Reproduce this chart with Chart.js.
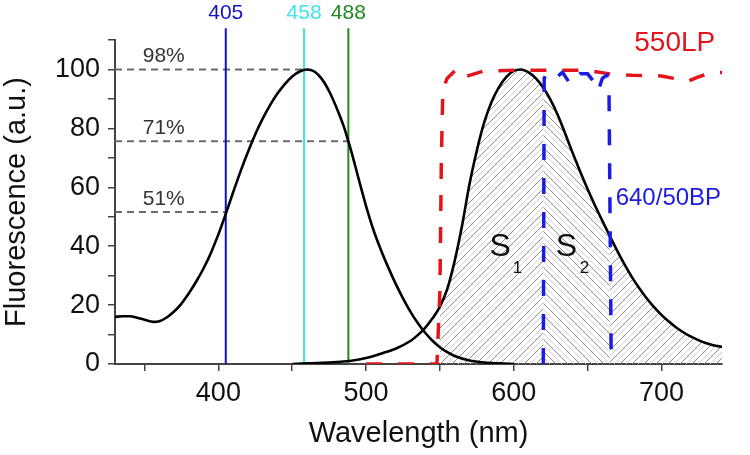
<!DOCTYPE html>
<html>
<head>
<meta charset="utf-8">
<script src="https://cdn.jsdelivr.net/npm/chart.js@4.4.1/dist/chart.umd.min.js"></script>
<style>
  html, body { margin: 0; padding: 0; background: #fff; }
  #wrap { width: 750px; height: 455px; }
</style>
</head>
<body>
<div id="wrap"><canvas id="spectra" width="750" height="455"></canvas></div>
<script>
// data (nm, nilai a.u.)
const excitationNm = [330, 335, 340, 345, 350, 356, 360, 365, 370, 375, 380, 385, 390, 395, 400, 405, 410, 415, 420, 425, 430, 435, 440, 445, 450, 455, 460, 465, 470, 475, 480, 485, 488, 490, 495, 500, 505, 510, 515, 520, 525, 530, 535, 540, 545, 550, 555, 560, 570, 580, 590, 600];
const excitationVal = [16, 16.2, 16.2, 15.7, 15, 14.3, 14.5, 15.8, 17.8, 20.5, 24, 28, 32.5, 37.8, 44, 51, 58.3, 65.4, 72, 78, 83.3, 87.9, 91.8, 95, 97.6, 99.3, 100, 99.3, 96.8, 92.6, 87, 80.5, 75.6, 72.2, 62.8, 53.6, 45.5, 38.8, 32.8, 27.3, 22.3, 17.8, 13.9, 10.6, 7.9, 5.7, 4, 2.7, 1.2, 0.5, 0.2, 0];

const emissionNm = [450, 460, 470, 480, 490, 500, 510, 520, 530, 535, 540, 545, 550, 555, 560, 565, 570, 575, 580, 585, 590, 595, 600, 605, 610, 615, 620, 625, 630, 635, 640, 645, 650, 655, 660, 665, 670, 675, 680, 685, 690, 695, 700, 705, 710, 715, 720, 725, 730, 735, 741];
const emissionVal = [0, 0.2, 0.4, 0.7, 1.1, 2, 3.5, 5.2, 7.8, 9.8, 12.3, 15.5, 19.5, 25.5, 35, 47, 61, 72.5, 82, 89, 94, 97.5, 99.5, 100, 99, 97, 93.8, 89.6, 84.3, 78, 71.5, 65.3, 59.4, 53.8, 48.6, 43.5, 38.5, 33.8, 29.5, 25.7, 22.3, 19.3, 16.7, 14.4, 12.4, 10.7, 9.3, 8.1, 7.1, 6.4, 5.8];

const lpNm = [500, 548, 550, 551, 552, 555, 560, 565, 570, 580, 600, 620, 650, 665, 680, 700, 710, 718, 725, 735, 741];
const lpVal = [0, 0, 25, 70, 93.5, 97, 99.5, 97, 98, 99.5, 99.7, 99.7, 99.7, 98.5, 98, 97.8, 96.8, 96, 97.5, 99, 99];

const bpNm = [620, 620.6, 623, 628, 633, 637, 641, 645, 650, 654, 657, 660, 663, 664.5, 666];
const bpVal = [0, 97, 99, 97, 99, 96, 95, 98.5, 98.5, 96, 92.5, 97, 98, 93, 0];

const laserNm = [405, 458, 488];
const laserTop = 114;

// garis putus-putus abu-abu: level & ujung kanan
const refLevel = [100, 75.6, 51.6];
const refEnd = [458, 488, 405];
const refText = ['98%', '71%', '51%'];

const hatchEdges = [550, 620, 665, 741];

const xTicksMajor = [400, 500, 600, 700];
const yTicksMajor = [0, 20, 40, 60, 80, 100];

const FONT = "'Liberation Sans', Arial, sans-serif";
const laserColors = ['#1212c4', '#3ee4ec', '#1f8a1f'];

function pts(xs, ys) {
    return xs.map((v, i) => ({ x: v, y: ys[i] }));
}

function makeHatch(dir) {
    const c = document.createElement('canvas');
    c.width = 12; c.height = 12;
    const g = c.getContext('2d');
    const line = (a, b, col) => {
        g.strokeStyle = col;
        g.lineWidth = 1;
        g.beginPath();
        g.moveTo(a[0], a[1]);
        g.lineTo(b[0], b[1]);
        g.stroke();
    };
    const dark = '#8e8e8e', light = '#d2d2d2';
    if (dir > 0) {
        line([-6, 6], [6, -6], dark);
        line([0, 12], [12, 0], dark);
        line([6, 18], [18, 6], dark);
        line([-6, 12], [6, 0], light);
        line([6, 12], [18, 0], light);
    } else {
        line([-6, 6], [6, 18], dark);
        line([0, 0], [12, 12], dark);
        line([6, -6], [18, 6], dark);
        line([-6, 0], [6, 12], light);
        line([6, 0], [18, 12], light);
    }
    return g.createPattern(c, 'repeat');
}

const emission = pts(emissionNm, emissionVal);

// arsiran di bawah kurva emisi (S1, S2 dan sisanya)
const hatchSets = [];
for (let i = 0; i < hatchEdges.length - 1; i++) {
    const lo = hatchEdges[i], hi = hatchEdges[i + 1];
    hatchSets.push({
        data: emission.filter(p => p.x >= lo && p.x <= hi),
        borderWidth: 0,
        pointRadius: 0,
        fill: 'origin',
        cubicInterpolationMode: 'monotone',
        backgroundColor: makeHatch(i % 2 === 0 ? 1 : -1),
        order: 10
    });
}

const refSets = refLevel.map((lv, i) => ({
    data: [{ x: 330, y: lv }, { x: refEnd[i], y: lv }],
    borderColor: '#6a6a6a',
    borderWidth: 2,
    borderDash: [7, 5],
    pointRadius: 0,
    fill: false,
    order: 5
}));

const laserSets = laserNm.map((nm, i) => ({
    data: [{ x: nm, y: 0 }, { x: nm, y: laserTop }],
    borderColor: laserColors[i],
    borderWidth: 2,
    pointRadius: 0,
    fill: false,
    clip: false,
    order: 4
}));

// label teks di atas plot
const labelPlugin = {
    id: 'labels',
    afterDatasetsDraw(chart) {
        const { ctx, scales: { x, y } } = chart;
        const put = (txt, nx, vy, size, color, align) => {
            ctx.font = size + 'px ' + FONT;
            ctx.fillStyle = color;
            ctx.textAlign = align || 'center';
            ctx.textBaseline = 'middle';
            ctx.fillText(txt, x.getPixelForValue(nx), y.getPixelForValue(vy));
        };
        ctx.save();
        laserNm.forEach((nm, i) => put(String(nm), nm, 119, 21, laserColors[i]));
        refText.forEach((t, i) => put(t, 363, refLevel[i] + 4.5, 21, '#333'));
        put('550LP', 709, 108.8, 28, '#e3141c');
        put('640/50BP', 669, 56.3, 24, '#1c1ce0', 'left');
        put('S', 590.8, 39.8, 32, '#111');
        put('1', 602.5, 32.5, 17, '#111');
        put('S', 635.7, 39.8, 32, '#111');
        put('2', 647.8, 32.5, 17, '#111');
        ctx.restore();
    }
};

new Chart(document.getElementById('spectra'), {
    type: 'line',
    data: {
        datasets: [
            ...hatchSets,
            ...refSets,
            ...laserSets,
            {
                data: pts(lpNm, lpVal),
                borderColor: '#e3141c',
                borderWidth: 3.5,
                borderDash: [16, 16],
                pointRadius: 0,
                fill: false,
                order: 2
            },
            {
                data: pts(bpNm, bpVal),
                borderColor: '#1c1ce0',
                borderWidth: 3.5,
                borderDash: [16, 18],
                pointRadius: 0,
                fill: false,
                order: 1
            },
            {
                data: pts(excitationNm, excitationVal),
                borderColor: '#000',
                borderWidth: 2.6,
                pointRadius: 0,
                cubicInterpolationMode: 'monotone',
                fill: false,
                order: 3
            },
            {
                data: emission,
                borderColor: '#000',
                borderWidth: 2.6,
                pointRadius: 0,
                cubicInterpolationMode: 'monotone',
                fill: false,
                order: 3
            }
        ]
    },
    options: {
        responsive: false,
        animation: false,
        devicePixelRatio: 1,
        layout: { padding: { top: 40, right: 28, left: 0, bottom: 0 } },
        plugins: {
            legend: { display: false },
            tooltip: { enabled: false }
        },
        scales: {
            x: {
                type: 'linear',
                min: 330,
                max: 741,
                border: { display: true, color: '#444', width: 2 },
                grid: { drawOnChartArea: false, tickLength: 7, color: '#444', lineWidth: 1.5 },
                ticks: {
                    stepSize: 50,
                    includeBounds: false,
                    autoSkip: false,
                    maxRotation: 0,
                    padding: 6,
                    color: '#111',
                    font: { family: FONT, size: 27 },
                    callback: v => xTicksMajor.includes(v) ? String(v) : ''
                },
                title: {
                    display: true,
                    text: 'Wavelength (nm)',
                    color: '#111',
                    font: { family: FONT, size: 29 },
                    padding: { top: 0, bottom: 4 }
                },
                afterFit: s => { s.height = 91; }
            },
            y: {
                min: 0,
                max: 110,
                border: { display: true, color: '#444', width: 2 },
                grid: { drawOnChartArea: false, tickLength: 7, color: '#444', lineWidth: 1.5 },
                ticks: {
                    stepSize: 10,
                    autoSkip: false,
                    padding: 8,
                    color: '#111',
                    font: { family: FONT, size: 27 },
                    callback: v => yTicksMajor.includes(v) ? String(v) : ''
                },
                title: {
                    display: true,
                    text: 'Fluorescence (a.u.)',
                    color: '#111',
                    font: { family: FONT, size: 29 },
                    padding: { top: 0, bottom: 0 }
                },
                afterFit: s => { s.width = 115; }
            }
        }
    },
    plugins: [labelPlugin]
});
</script>
</body>
</html>
